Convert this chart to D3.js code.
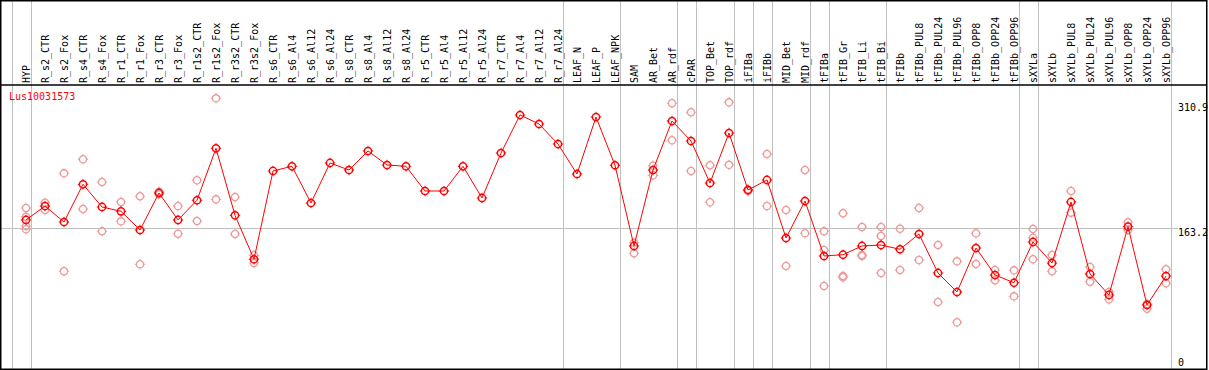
<!DOCTYPE html>
<html>
<head>
<meta charset="utf-8">
<script src="https://cdn.jsdelivr.net/npm/d3@7"></script>
<style>
  html, body { margin: 0; padding: 0; background: #fff; }
  svg { display: block; }
  text { font-family: "DejaVu Sans Mono", "Liberation Mono", monospace; font-size: 10px; }
</style>
</head>
<body>
<svg id="chart" width="1209" height="370"></svg>
<script>
const geneName = "Lus10031573";

const categories = ["HYP","R_s2_CTR","R_s2_Fox","R_s4_CTR","R_s4_Fox","R_r1_CTR","R_r1_Fox","R_r3_CTR","R_r3_Fox",
  "R_r1s2_CTR","R_r1s2_Fox","R_r3s2_CTR","R_r3s2_Fox","R_s6_CTR","R_s6_Al4","R_s6_Al12","R_s6_Al24","R_s8_CTR",
  "R_s8_Al4","R_s8_Al12","R_s8_Al24","R_r5_CTR","R_r5_Al4","R_r5_Al12","R_r5_Al24","R_r7_CTR","R_r7_Al4","R_r7_Al12",
  "R_r7_Al24","LEAF_N","LEAF_P","LEAF_NPK","SAM","AR_Bet","AR_rdf","cPAR","TOP_Bet","TOP_rdf","iFIBa","iFIBb",
  "MID_Bet","MID_rdf","tFIBa","tFIB_Gr","tFIB_Li","tFIB_Bi","tFIBb","tFIBb_PUL8","tFIBb_PUL24","tFIBb_PUL96",
  "tFIBb_OPP8","tFIBb_OPP24","tFIBb_OPP96","sXYLa","sXYLb","sXYLb_PUL8","sXYLb_PUL24","sXYLb_PUL96","sXYLb_OPP8",
  "sXYLb_OPP24","sXYLb_OPP96"];

// last category of each group (a separator line follows it)
const groupEnds = ["HYP","R_r7_Al24","LEAF_NPK","AR_rdf","cPAR","TOP_rdf","iFIBa","iFIBb","MID_rdf","tFIBa",
  "tFIB_Bi","tFIBb_OPP96","sXYLa","sXYLb_OPP96"];

const meanValues = [173.1,189.5,170.7,215.1,188.4,183.3,161.3,204.9,173.1,196.3,257.5,178.6,126.8,230.8,236.3,
  193.1,240.2,231.9,254.3,237.8,236.3,207.2,207.2,236.3,199.0,251.9,296.7,286.1,262.5,227.2,294.3,237.5,142.5,
  231.9,289.6,266.1,216.6,275.5,208.4,220.2,151.9,195.4,130.7,132.2,142.5,143.6,138.6,156.6,110.7,88.3,140.1,
  108.3,99.2,147.2,122.4,194.3,109.5,84.8,165.2,73.0,107.1];

const replicateValues = [
  [187.2,176.9,166.0,162.1],[193.4,184.8],[228.0,112.7],[244.5,186.0],[217.8,159.8],[194.3,171.5],
  [201.0,120.9],[206.4,203.4],[189.5,156.9],[219.8,171.9],[316.3,197.4],[200.1,156.6],[131.5,122.4],
  [],[],[],[],[],[],[],[],[],[],[],[],[],[],[],[],[],[],[],
  [146.3,133.9],[237.0,225.7],[310.5,266.9],[299.9,230.8],[237.5,193.9],[311.6,238.0],[209.0,207.2],
  [250.8,189.5],[184.8,118.9],[231.9,157.4],[159.8,137.7,95.4],[181.0,107.1,105.6],[164.8,131.9,130.7],
  [164.8,154.2,110.7],[162.8,114.2],[187.2,125.9],[143.6,76.5],[124.4,52.6],[157.4,121.3],[114.2,102.1],
  [113.8,83.2],[162.5,152.2,126.8],[131.9,112.7],[207.2,181.7],[117.7,100.4],[88.3,79.7],[170.4,161.3],
  [74.2,68.6],[115.0,98.5]];

const yTickValues = [310.9, 163.2, 0];
const yGridValues = [163.2];

const W = 1209, H = 370;
const headerBottom = 85, plotBottom = 369;

const svg = d3.select("#chart");

const x = d3.scalePoint().domain(categories).range([26, 1166]).padding(0);
const step = x.step();
const y = d3.scaleLinear().domain([0, 332]).range([367, headerBottom]);

// separators (grey vertical)
const sepX = [x(categories[0]) - step + 4.5].concat(groupEnds.map(c => x(c) + 4.5));
svg.append("g").selectAll("line").data(sepX).join("line")
  .attr("x1", d => Math.round(d) + 0.5).attr("x2", d => Math.round(d) + 0.5)
  .attr("y1", 0).attr("y2", H)
  .attr("stroke", "#c0c0c0").attr("stroke-width", 1);

// horizontal grid
svg.append("g").selectAll("line").data(yGridValues).join("line")
  .attr("x1", 1).attr("x2", 1178)
  .attr("y1", d => Math.round(y(d)) + 0.5).attr("y2", d => Math.round(y(d)) + 0.5)
  .attr("stroke", "#c0c0c0").attr("stroke-width", 1);

// y labels (right)
svg.append("g").selectAll("text").data(yTickValues).join("text")
  .attr("x", 1178)
  .attr("y", d => Math.min(y(d), 358) + 8)
  .attr("fill", "#000")
  .text(d => d === 0 ? "0" : d.toFixed(1));

// category labels (rotated)
svg.append("g").selectAll("text").data(categories).join("text")
  .attr("transform", d => `translate(${x(d) + 3.5},83) rotate(-90)`)
  .attr("fill", "#000")
  .text(d => d);

// marker
function marker(g, color, sw) {
  g.append("circle").attr("r", 3.6).attr("fill", "none").attr("stroke", color).attr("stroke-width", sw);
  g.append("path").attr("d", "M0,-3.5V-5.2M0,3.5V5.2M-3.5,0H-5.2M3.5,0H5.2")
    .attr("stroke", color).attr("stroke-width", 1);
}

// replicates
const reps = [];
replicateValues.forEach((arr, i) => arr.forEach(v => reps.push({c: categories[i], v})));
svg.append("g").selectAll("g").data(reps).join("g")
  .attr("transform", d => `translate(${x(d.c)},${y(d.v)})`)
  .each(function() { marker(d3.select(this), "#ee9a9a", 1.3); });

// mean line
const meanData = categories.map((c, i) => ({c, v: meanValues[i]}));
svg.append("path").datum(meanData)
  .attr("fill", "none").attr("stroke", "#ff0000").attr("stroke-width", 1)
  .attr("d", d3.line().x(d => x(d.c)).y(d => y(d.v)));

svg.append("g").selectAll("g").data(meanData).join("g")
  .attr("transform", d => `translate(${x(d.c)},${y(d.v)})`)
  .each(function() { marker(d3.select(this), "#ff0000", 1.5); });

// gene name
svg.append("text").attr("x", 9).attr("y", 100).attr("fill", "#ff0000").text(geneName);

// frame
svg.append("rect").attr("x", 0.75).attr("y", 0.75).attr("width", 1206).attr("height", 368.5)
  .attr("fill", "none").attr("stroke", "#000").attr("stroke-width", 1.5);
svg.append("line").attr("x1", 0).attr("x2", 1207).attr("y1", 85).attr("y2", 85)
  .attr("stroke", "#000").attr("stroke-width", 1.5);
</script>
</body>
</html>
